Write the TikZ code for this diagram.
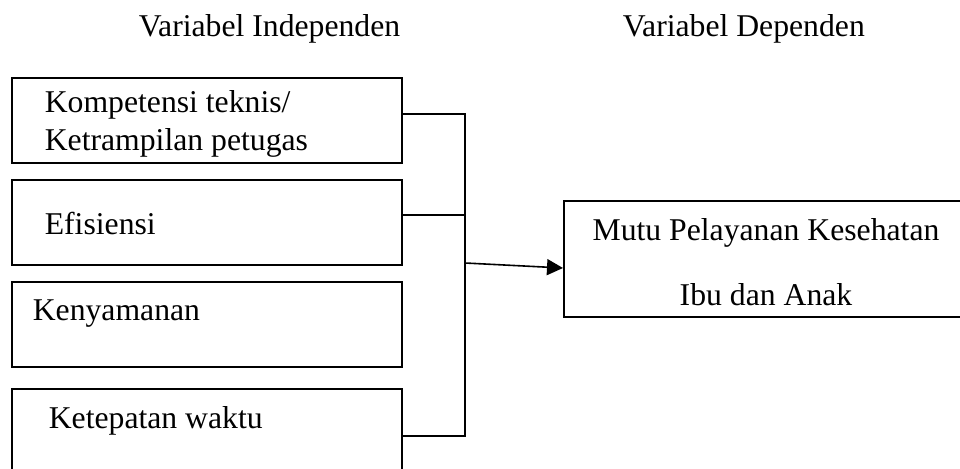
\documentclass[tikz,border=0pt]{standalone}
\usepackage{fontspec}
\setmainfont{Liberation Serif}
\usetikzlibrary{arrows.meta,positioning}

\begin{document}
\begin{tikzpicture}%
  [x=1pt, y=-1pt, line width=1.6pt,
   node font=\fontsize{31.7}{37}\selectfont,
   varbox/.style={rectangle, draw, line width=1.7pt, inner sep=0pt,
                  anchor=north west, minimum width=390pt, minimum height=85pt},
   lbl/.style={inner sep=0pt, anchor=base west}]

  \useasboundingbox (0,0) rectangle (960,468);
  \clip (0,0) rectangle (960,468);

  \node (indep) at (138,37) [lbl] {Variabel Independen};
  \node (dep) at (622,37) [lbl] {Variabel Dependen};

  \node (komp) at (11,77) [varbox] {};
  \node (effi) at (11,179) [varbox] {};
  \node (nyaman) at (11,281) [varbox] {};
  \node (tepat) at (11,388) [varbox] {};
  \node (mutu) at (563,200) [varbox, minimum width=420pt, minimum height=116pt] {};

  \node (kompa) at (44,113) [lbl] {Kompetensi teknis/};
  \node (kompb) at (44,150) [lbl] {Ketrampilan petugas};
  \node (effit) at (44,234) [lbl] {Efisiensi};
  \node (nyamant) at (32,320) [lbl] {Kenyamanan};
  \node (tepatt) at (48,428) [lbl] {Ketepatan waktu};
  \node (mutua) at (766,240) [lbl, anchor=base] {Mutu Pelayanan Kesehatan};
  \node (mutub) at (766,305) [lbl, anchor=base] {Ibu dan Anak};

  \coordinate (j1) at (465,114);
  \coordinate (j2) at (465,215);
  \coordinate (j4) at (465,436);
  \coordinate (jm) at (465,263);
  \coordinate (tip) at (563,268);

  \draw (komp.east |- j1) -- (j1) -- (j4) -- (tepat.east |- j4);
  \draw (effi.east |- j2) -- (j2);
  \draw[-{Triangle[length=16pt,width=16pt]}] (jm) -- (tip);

\end{tikzpicture}
\end{document}
